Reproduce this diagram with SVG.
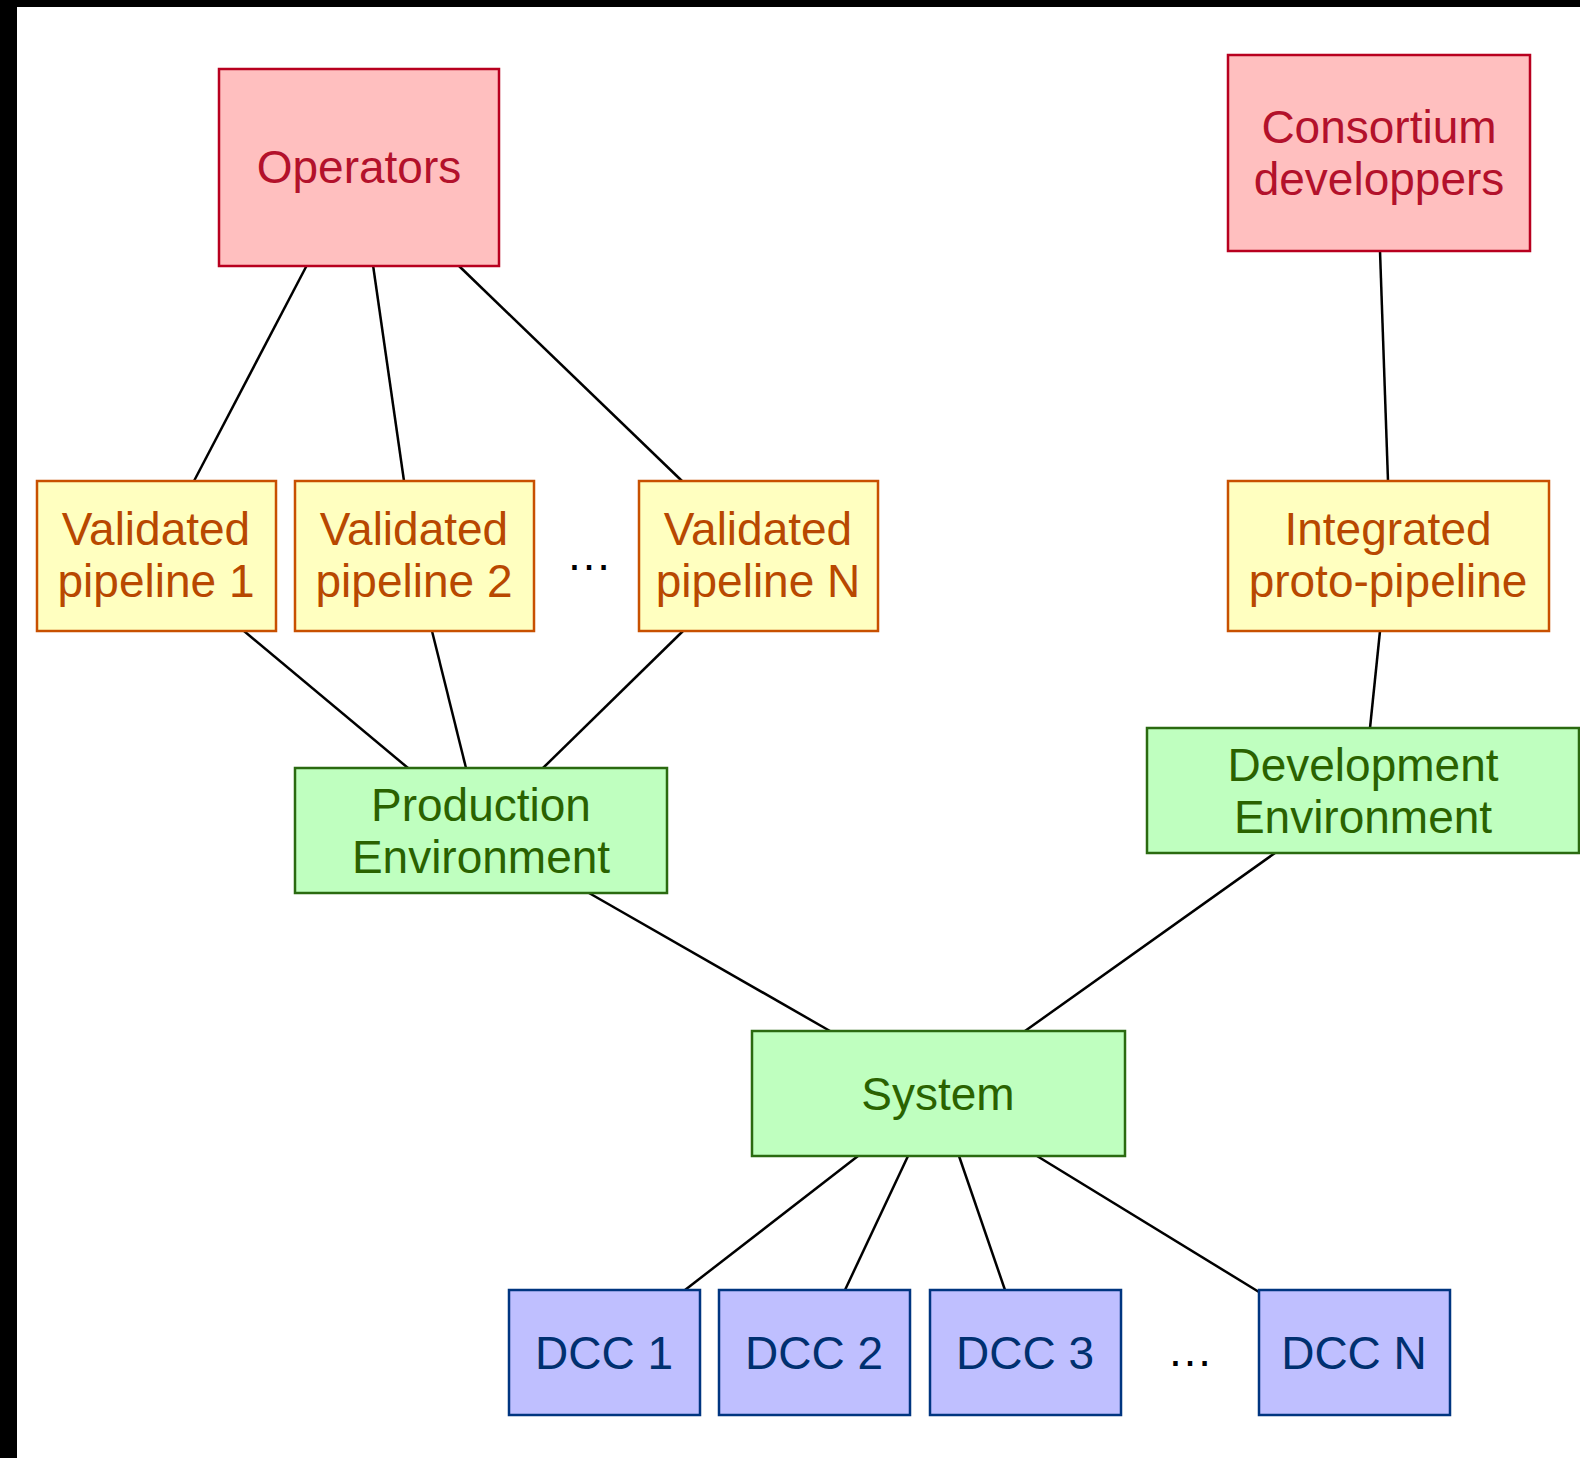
<svg xmlns="http://www.w3.org/2000/svg" width="1580" height="1458" viewBox="0 0 1580 1458">
<style>
text{font-family:"Liberation Sans",Arial,Helvetica,sans-serif;font-size:46px;text-anchor:middle}
.red rect{fill:#FFBFBF;stroke:#B8001F;stroke-width:2.5}
.red text{fill:#B3112B}
.yel rect{fill:#FFFFC0;stroke:#C85000;stroke-width:2.5}
.yel text{fill:#B84800}
.grn rect{fill:#BFFFBF;stroke:#2A6A10;stroke-width:2.5}
.grn text{fill:#2A6200}
.blu rect{fill:#BFBFFF;stroke:#003580;stroke-width:2.5}
.blu text{fill:#003070}
#connectors line{stroke:#000;stroke-width:2.5}
.dots{fill:#000}
</style>
<rect x="0" y="0" width="1580" height="1458" fill="#000"/>
<rect x="17" y="7" width="1563" height="1451" fill="#fff"/>
<g id="connectors">
<line x1="307" y1="265" x2="194" y2="481"/>
<line x1="373" y1="265" x2="404" y2="481"/>
<line x1="458" y1="265" x2="682" y2="481"/>
<line x1="1380" y1="251" x2="1388" y2="481"/>
<line x1="244" y1="631" x2="408" y2="768"/>
<line x1="432" y1="631" x2="466" y2="768"/>
<line x1="683" y1="631" x2="543" y2="768"/>
<line x1="1380" y1="631" x2="1370" y2="728"/>
<line x1="589" y1="893" x2="830" y2="1031"/>
<line x1="1275" y1="853" x2="1025" y2="1031"/>
<line x1="858" y1="1156" x2="685" y2="1290"/>
<line x1="908" y1="1156" x2="845" y2="1290"/>
<line x1="959" y1="1156" x2="1005" y2="1290"/>
<line x1="1037" y1="1156" x2="1259" y2="1292"/>
</g>
<g id="operators" class="red"><rect x="219" y="69" width="280" height="197"/><text x="359" y="183">Operators</text></g>
<g id="consortium" class="red"><rect x="1228" y="55" width="302" height="196"/><text x="1379" y="143">Consortium</text><text x="1379" y="195">developpers</text></g>
<g id="vp1" class="yel"><rect x="37" y="481" width="239" height="150"/><text x="156" y="545">Validated</text><text x="156" y="597">pipeline 1</text></g>
<g id="vp2" class="yel"><rect x="295" y="481" width="239" height="150"/><text x="414" y="545">Validated</text><text x="414" y="597">pipeline 2</text></g>
<g id="vpn" class="yel"><rect x="639" y="481" width="239" height="150"/><text x="758" y="545">Validated</text><text x="758" y="597">pipeline N</text></g>
<text class="dots" x="589" y="570">…</text>
<g id="integrated" class="yel"><rect x="1228" y="481" width="321" height="150"/><text x="1388" y="545">Integrated</text><text x="1388" y="597">proto-pipeline</text></g>
<g id="prod" class="grn"><rect x="295" y="768" width="372" height="125"/><text x="481" y="821">Production</text><text x="481" y="873">Environment</text></g>
<g id="dev" class="grn"><rect x="1147" y="728" width="432" height="125"/><text x="1363" y="781">Development</text><text x="1363" y="833">Environment</text></g>
<g id="system" class="grn"><rect x="752" y="1031" width="373" height="125"/><text x="938" y="1110">System</text></g>
<g id="dcc1" class="blu"><rect x="509" y="1290" width="191" height="125"/><text x="604" y="1369">DCC 1</text></g>
<g id="dcc2" class="blu"><rect x="719" y="1290" width="191" height="125"/><text x="814" y="1369">DCC 2</text></g>
<g id="dcc3" class="blu"><rect x="930" y="1290" width="191" height="125"/><text x="1025" y="1369">DCC 3</text></g>
<text class="dots" x="1190" y="1366">…</text>
<g id="dccn" class="blu"><rect x="1259" y="1290" width="191" height="125"/><text x="1354" y="1369">DCC N</text></g>
</svg>
